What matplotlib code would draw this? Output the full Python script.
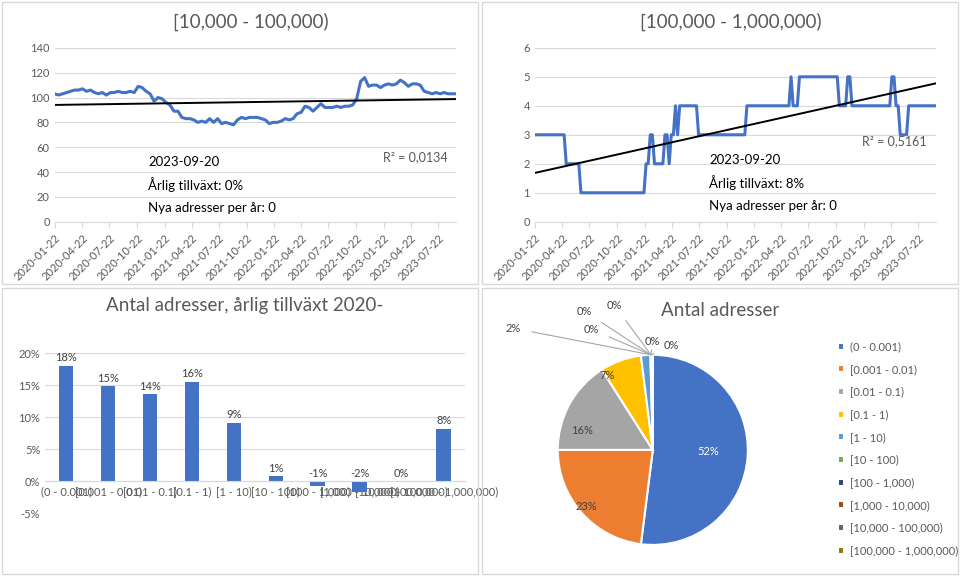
import numpy as np
import pandas as pd
import matplotlib
matplotlib.use("Agg")
import matplotlib.pyplot as plt
import matplotlib.dates as mdates
from matplotlib.patches import Rectangle

plt.rcParams['font.family'] = ['Lato', 'DejaVu Sans']

# [10,000 - 100,000) biweekly-ish count
mid_vals = [103, 102, 103, 104, 105, 106, 106,
            107, 105, 106, 104, 103, 104, 102,
            104, 104, 105, 104, 104, 105, 104,
            109, 108, 105, 103, 97, 100, 99,
            96, 94, 89, 89, 84, 83, 83,
            82, 80, 81, 80, 83, 80, 83,
            79, 80, 79, 78, 82, 84, 83,
            84, 84, 84, 83, 82, 79, 80,
            80, 81, 83, 82, 83, 87, 88,
            93, 92, 89, 92, 95, 92, 92,
            92, 93, 92, 93, 93, 94, 99,
            113, 116, 109, 110, 110, 108, 110,
            111, 110, 111, 114, 112, 109, 111,
            111, 110, 105, 104, 103, 104, 103,
            104, 103, 103, 103]

# [100,000 - 1,000,000) weekly count
big_vals = [3, 3, 3, 3, 3, 3, 3, 3, 3, 3, 3, 3, 3, 3, 3,
            2, 2, 2, 2, 2, 2, 2,
            1, 1, 1, 1, 1, 1, 1, 1, 1, 1, 1, 1, 1, 1, 1, 1,
            1, 1, 1, 1, 1, 1, 1, 1, 1, 1, 1, 1, 1, 1, 1,
            2, 2, 3, 3, 2, 2, 2, 2, 2, 3, 3, 2, 3, 3, 4, 3,
            4, 4, 4, 4, 4, 4, 4, 4, 4,
            3, 3, 3, 3, 3, 3, 3, 3, 3, 3, 3, 3, 3, 3, 3, 3, 3, 3, 3, 3, 3, 3, 3,
            4, 4, 4, 4, 4, 4, 4, 4, 4, 4, 4, 4, 4, 4, 4, 4, 4, 4, 4, 4, 4,
            5, 4, 4, 4,
            5, 5, 5, 5, 5, 5, 5, 5, 5, 5, 5, 5, 5, 5, 5, 5, 5, 5, 5,
            4, 4, 4, 4, 5, 5,
            4, 4, 4, 4, 4, 4, 4, 4, 4, 4, 4, 4, 4, 4, 4, 4, 4, 4, 4,
            5, 5, 4, 4, 3, 3, 3, 3,
            4, 4, 4, 4, 4, 4, 4, 4, 4, 4, 4, 4, 4, 4]

start_date = "2020-01-22"
end_date = "2023-09-20"
tick_labels = ["2020-01-22", "2020-04-22", "2020-07-22", "2020-10-22",
               "2021-01-22", "2021-04-22", "2021-07-22", "2021-10-22",
               "2022-01-22", "2022-04-22", "2022-07-22", "2022-10-22",
               "2023-01-22", "2023-04-22", "2023-07-22"]

categories = ["(0 - 0.001)", "[0.001 - 0.01)", "[0.01 - 0.1)", "[0.1 - 1)", "[1 - 10)",
              "[10 - 100)", "[100 - 1,000)", "[1,000 - 10,000)", "[10,000 - 100,000)",
              "[100,000 - 1,000,000)"]
growth = [18.0, 14.8, 13.6, 15.5, 9.1, 0.8, -0.8, -1.7, 0.0, 8.2]
growth_labels = ["18%", "15%", "14%", "16%", "9%", "1%", "-1%", "-2%", "0%", "8%"]
share = [52.0, 23.0, 16.0, 7.0, 1.6, 0.15, 0.1, 0.07, 0.04, 0.04]
share_labels = ["52%", "23%", "16%", "7%", "2%", "0%", "0%", "0%", "0%", "0%"]
colors = ['#4472C4', '#ED7D31', '#A5A5A5', '#FFC000', '#5B9BD5', '#70AD47',
          '#264478', '#9E480E', '#636363', '#997300']

TXT = '#595959'
GRID = '#d9d9d9'
BLUE = '#4472C4'

fig = plt.figure(figsize=(9.6, 5.76), dpi=100)

# panel borders
for (x0, y0, x1, y1) in [(2, 2, 478, 284), (482, 2, 958, 284), (2, 288, 478, 574), (482, 288, 958, 574)]:
    fig.patches.append(Rectangle((x0 / 960, 1 - y1 / 576), (x1 - x0) / 960, (y1 - y0) / 576,
                                 transform=fig.transFigure, fill=False, edgecolor=GRID, lw=1))


def style_axes(ax):
    for s in ['top', 'right', 'left']:
        ax.spines[s].set_visible(False)
    ax.spines['bottom'].set_color(GRID)
    ax.tick_params(colors=TXT, labelsize=8, length=0)
    ax.yaxis.grid(True, color=GRID, lw=0.8)
    ax.set_axisbelow(True)


def rotate_xlabels(ax):
    for lab in ax.get_xticklabels():
        lab.set_rotation(45)
        lab.set_ha('right')
        lab.set_rotation_mode('anchor')


def line_panel(rect, vals, ylim, yticks, title, r2, r2pos, growth_txt, txtpos):
    ax = fig.add_axes(rect)
    style_axes(ax)
    dates = pd.date_range(start_date, end_date, periods=len(vals))
    ax.plot(dates, vals, color=BLUE, lw=2.2)
    x = mdates.date2num(dates)
    k, m = np.polyfit(x, vals, 1)
    ax.plot(dates, k * x + m, color='black', lw=1.4)
    ax.set_xlim(dates[0], dates[-1])
    ax.set_ylim(*ylim)
    ax.set_yticks(yticks)
    ax.set_xticks(pd.to_datetime(tick_labels))
    ax.set_xticklabels(tick_labels)
    ax.tick_params(axis='x', length=4, color=GRID)
    rotate_xlabels(ax)
    fig.text(rect[0] + rect[2] / 2 - 0.005, 0.962, title, ha='center', va='center', fontsize=13.5, color=TXT)
    fig.text(r2pos[0] / 960, 1 - r2pos[1] / 576, r2, fontsize=9, color=TXT, va='center')
    for i, t in enumerate(["2023-09-20", growth_txt, "Nya adresser per år: 0"]):
        fig.text(txtpos[0] / 960, 1 - (txtpos[1] + 23 * i) / 576, t, fontsize=9.5, color='black', va='center')
    return ax


line_panel([0.057, 0.615, 0.418, 0.302], mid_vals, (0, 140), range(0, 141, 20),
           "[10,000 - 100,000)", "R² = 0,0134", (383, 157), "Årlig tillväxt: 0%", (148, 162))
line_panel([0.557, 0.615, 0.418, 0.302], big_vals, (0, 6), range(0, 7),
           "[100,000 - 1,000,000)", "R² = 0,5161", (862, 141), "Årlig tillväxt: 8%", (709, 160))

# bar chart
ax3 = fig.add_axes([0.047, 0.109, 0.437, 0.278])
style_axes(ax3)
xpos = np.arange(len(categories))
ax3.bar(xpos, growth, width=0.35, color=BLUE)
for xi, v, lab in zip(xpos, growth, growth_labels):
    ax3.text(xi, max(v, 0) + 0.4, lab, ha='center', va='bottom', fontsize=8, color='#404040')
ax3.set_xlim(-0.5, len(categories) - 0.5)
ax3.set_ylim(-5, 20)
ax3.set_yticks(range(-5, 21, 5))
ax3.set_yticklabels([f"{v}%" for v in range(-5, 21, 5)])
ax3.set_xticks(xpos)
ax3.set_xticklabels(categories)
rotate_xlabels(ax3)
ax3.spines['bottom'].set_position(('data', 0))
fig.text(0.255, 1 - 305 / 576, "Antal adresser, årlig tillväxt 2020-", ha='center', va='center',
         fontsize=13.5, color=TXT)

# pie chart
ax4 = fig.add_axes([0.581, 0.054, 0.198, 0.33])
wedges, _ = ax4.pie(share, colors=colors, startangle=90, counterclock=False,
                    wedgeprops=dict(edgecolor='white', linewidth=1.5))
ax4.set_aspect('equal')
ax4.set_xlim(-1, 1)
ax4.set_ylim(-1, 1)
inner = {0: (0.58, -0.02), 1: (-0.7, -0.6), 2: (-0.75, 0.2), 3: (-0.48, 0.78)}
for i, (px, py) in inner.items():
    ax4.text(px, py, share_labels[i], ha='center', va='center', fontsize=8,
             color='white' if i == 0 else '#404040')
outer = {4: (-1.47, 1.28), 5: (-0.65, 1.27), 6: (-0.72, 1.46), 7: (-0.4, 1.52),
         8: (0.0, 1.14), 9: (0.2, 1.1)}
for i, (px, py) in outer.items():
    ax4.annotate(share_labels[i], xy=(-0.02, 1.0), xytext=(px, py), ha='center', va='center',
                 fontsize=8, color='#404040', annotation_clip=False,
                 arrowprops=dict(arrowstyle='-', color='#a6a6a6', lw=0.8, shrinkA=6, shrinkB=0))
fig.text(0.75, 1 - 310 / 576, "Antal adresser", ha='center', va='center', fontsize=13.5, color=TXT)
fig.legend(wedges, categories, loc='upper left', bbox_to_anchor=(0.862, 0.425), frameon=False,
           fontsize=8, labelcolor=TXT, handlelength=0.6, handleheight=0.6, handletextpad=0.5,
           labelspacing=1.05)

fig.savefig("out.png", dpi=100, facecolor='white')
